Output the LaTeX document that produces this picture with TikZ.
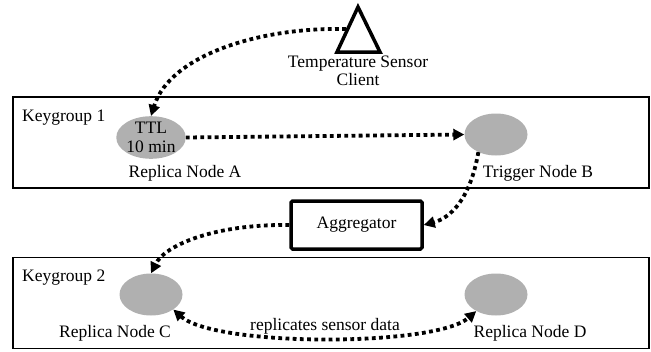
\documentclass[tikz,border=0pt]{standalone}
\usepackage{fontspec}
\setmainfont{Liberation Serif}
\usetikzlibrary{arrows.meta,shapes.geometric}
\definecolor{nodegray}{RGB}{176,176,176}
\begin{document}
\begin{tikzpicture}[x=1pt,y=-1pt,
  txt/.style={font=\fontsize{17.5}{18.5}\selectfont, inner sep=0pt, align=center},
  grp/.style={draw, line width=1.3pt, minimum width=636pt, minimum height=91pt, inner sep=0pt},
  rep/.style={ellipse, fill=nodegray, minimum width=63pt, minimum height=42pt, inner sep=0pt, txt},
  >={Triangle[length=11pt,width=11pt]},
  flow/.style={line width=3.8pt, dash pattern=on 3.8pt off 3.4pt, line cap=butt},
  ]
\useasboundingbox (0,0) rectangle (651,351);

% keygroup boxes
\node[grp] (kg1) at (331,142.5) {};
\node[grp] (kg2) at (331,303) {};
\node[txt, anchor=west] (kg1l) at (22,118) {Keygroup 1};
\node[txt, anchor=west] (kg2l) at (22,278) {Keygroup 2};

% sensor client
\draw[line width=3.5pt, line join=miter] (358,7) -- (380,52) -- (337,52) -- cycle;
\coordinate (tc) at (346,29);
\node[txt] (tsl) at (358,71) {Temperature Sensor\\Client};

% replica nodes
\node[rep] (A) at (151,137.5) {TTL\\10 min};
\node[rep] (B) at (496,134.5) {};
\node[rep] (C) at (151,294.5) {};
\node[rep] (D) at (496,294.5) {};
\node[txt] (Al) at (185,173) {Replica Node A};
\node[txt] (Bl) at (538,173) {Trigger Node B};
\node[txt] (Cl) at (115,333) {Replica Node C};
\node[txt] (Dl) at (530,333) {Replica Node D};

% aggregator
\node[txt, draw, line width=3.5pt, rounded corners=1.5pt, minimum width=131pt, minimum height=48pt] (agg) at (356.5,225) {Aggregator};

% connectors
\draw[flow,->] (tc) .. controls (260,27) and (170,55) .. (A.north);
\draw[flow,->] (A.east) -- (B.west);
\draw[flow,->] (B.225) .. controls (470,200) and (450,218) .. (agg.east);
\draw[flow,->] (agg.west) .. controls (215,224) and (165,245) .. (C.north);
\draw[flow,<->] (C.-34) .. controls (215,347) and (435,347) .. (D.220);
\node[txt] (lbl) at (325,326) {replicates sensor data};
\end{tikzpicture}
\end{document}
